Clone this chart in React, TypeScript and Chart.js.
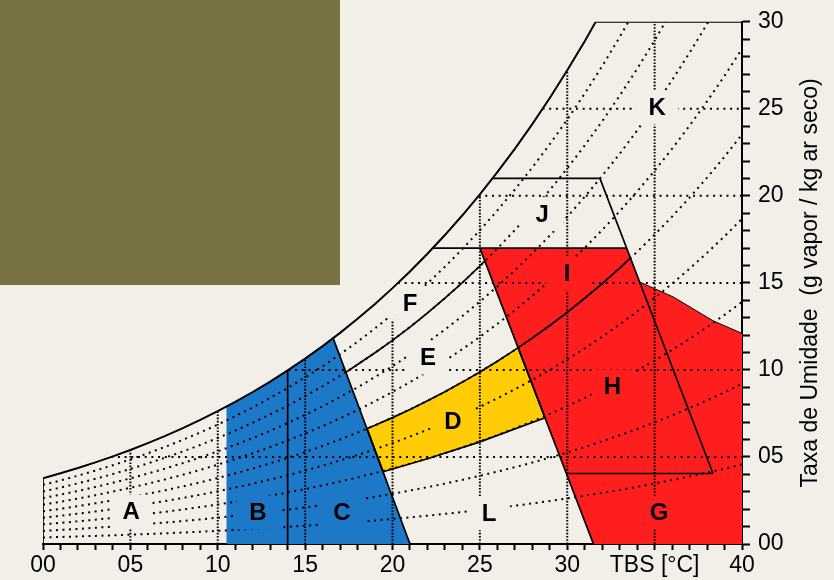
import React, { useEffect, useRef } from 'react';
import { Chart, registerables } from 'chart.js';

Chart.register(...registerables);

type Pt = [number, number];

// ---------- data ----------
const P_ATM = 101.325;
const SAT_T = [0, 1, 2, 3, 4, 5, 6, 7, 8, 9, 10, 11, 12, 13, 14, 15, 16, 17, 18, 19, 20, 21, 22, 23, 24, 25, 26, 27, 28, 29, 30, 31, 32, 33, 34, 35, 36, 37, 38, 39, 40];
const SAT_W = [3.775, 4.06, 4.364, 4.689, 5.034, 5.403, 5.796, 6.213, 6.657, 7.129, 7.632, 8.166, 8.732, 9.334, 9.973, 10.651, 11.369, 12.131, 12.938, 13.794, 14.7, 15.659, 16.674, 17.749, 18.885, 20.087, 21.359, 22.703, 24.124, 25.625, 27.212, 28.887, 30.658, 32.527, 34.502, 36.587, 38.789, 41.114, 43.569, 46.161, 48.898];
const RH_LEVELS = [0.1, 0.2, 0.3, 0.4, 0.5, 0.6, 0.7, 0.8, 0.9];
const GRID_T = [5, 10, 15, 20, 25, 30, 35];
const GRID_W = [5, 10, 15, 20, 25];

const X_TICK_LABELS: Record<number, string> = { 0: '00', 5: '05', 10: '10', 15: '15', 20: '20', 25: '25', 30: '30', 35: 'TBS [°C]', 40: '40' };
const Y_TICK_LABELS: Record<number, string> = { 0: '00', 5: '05', 10: '10', 15: '15', 20: '20', 25: '25', 30: '30' };
const Y_TITLE = 'Taxa de Umidade  (g vapor / kg ar seco)';

const BLUE_ZONE: Pt[] = [[10.5, 0], [10.5, 7.9], [11, 8.166], [12, 8.732], [13, 9.334], [14, 9.973], [15, 10.651], [16, 11.369], [16.6, 11.83], [21, 0]];
const YELLOW_ZONE: Pt[] = [[18.54, 6.63], [19, 6.82], [20, 7.26], [21, 7.73], [22, 8.23], [23, 8.75], [24, 9.3], [25, 9.88], [26, 10.5], [27, 11.15], [27.19, 11.28], [28.73, 7.25], [25, 5.87], [22, 4.9], [19.46, 4.15]];
const RED_ZONE: Pt[] = [[25, 17], [33.4, 17], [34.14, 15.05], [36.07, 14.19], [38.35, 12.82], [40, 12.1], [40, 0], [31.5, 0]];

const LEFT_EDGE: Pt[] = [[0, 0], [0, 3.775]];
const BC_LINE: Pt[] = [[14, 0], [14, 9.973]];
const C_SLANT: Pt[] = [[16.6, 11.83], [21, 0]];
const EF_LINE: Pt[] = [[17.33, 9.86], [18, 10.31], [19, 10.99], [20, 11.7], [21, 12.46], [22, 13.27], [23, 14.12], [24, 15.02], [25, 15.97], [25.28, 16.26]];
const FJ_LINE: Pt[] = [[22.3, 17], [33.4, 17]];
const J_LINE: Pt[] = [[25.72, 21], [31.87, 21], [38.34, 4.05]];
const RED_SLANT: Pt[] = [[25, 17], [31.5, 0]];
const IH_LINE: Pt[] = [[27.19, 11.28], [28, 11.83], [29, 12.55], [30, 13.31], [31, 14.12], [32, 14.96], [33, 15.85], [33.61, 16.43]];
const HG_LINE: Pt[] = [[29.95, 4.05], [38.34, 4.05]];
const RED_EDGE: Pt[] = [[34.14, 15.05], [36.07, 14.19], [38.35, 12.82], [40, 12.1]];

const ZONE_LABELS = ['A', 'B', 'C', 'D', 'E', 'F', 'G', 'H', 'I', 'J', 'K', 'L'];
const LABEL_T = [5.04, 12.3, 17.11, 23.46, 22.03, 21.0, 35.25, 32.59, 29.99, 28.56, 35.14, 25.52];
const LABEL_W = [1.86, 1.8, 1.83, 7.07, 10.71, 13.85, 1.8, 9.05, 15.52, 18.95, 25.08, 1.77];

// ---------- styles ----------
const BG = '#f2efe8';
const OLIVE = '#767340';
const BLUE = '#1e78c8';
const YELLOW = '#ffcc05';
const RED = '#ff1e1e';
const LABEL_BOX: Record<string, string> = { A: BG, B: BLUE, C: BLUE, D: YELLOW, E: BG, F: BG, G: RED, H: RED, I: RED, J: BG, K: BG, L: BG };
const FONT = "'Liberation Sans', Arial, sans-serif";

// ---------- helpers (grid construction) ----------
const satAt = (t: number) => {
  for (let i = 0; i < SAT_T.length - 1; i++) {
    if (t >= SAT_T[i] && t <= SAT_T[i + 1]) {
      const f = (t - SAT_T[i]) / (SAT_T[i + 1] - SAT_T[i]);
      return SAT_W[i] + f * (SAT_W[i + 1] - SAT_W[i]);
    }
  }
  return SAT_W[SAT_W.length - 1];
};
const tAtSat = (w: number) => {
  for (let i = 0; i < SAT_W.length - 1; i++) {
    if (w >= SAT_W[i] && w <= SAT_W[i + 1]) {
      const f = (w - SAT_W[i]) / (SAT_W[i + 1] - SAT_W[i]);
      return SAT_T[i] + f * (SAT_T[i + 1] - SAT_T[i]);
    }
  }
  return 40;
};
const rhCurve = (phi: number): Pt[] =>
  SAT_T.map((t, i) => {
    const ws = SAT_W[i];
    const ps = (ws * P_ATM) / (622 + ws);
    return [t, (622 * phi * ps) / (P_ATM - phi * ps)] as Pt;
  });

const satLine: Pt[] = [];
SAT_T.forEach((t, i) => { if (SAT_W[i] <= 30) satLine.push([t, SAT_W[i]]); });
satLine.push([tAtSat(30), 30], [40, 30]);

const toXY = (pts: Pt[]) => pts.map(([x, y]) => ({ x, y }));

const dotted = (pts: Pt[], dash: number[], width: number) => ({
  data: toXY(pts), showLine: true, pointRadius: 0, borderColor: '#000', borderWidth: width,
  borderDash: dash, fill: false, order: 2, kind: 'dot', tension: 0,
});
const solid = (pts: Pt[], width = 1.7) => ({
  data: toXY(pts), showLine: true, pointRadius: 0, borderColor: '#000', borderWidth: width,
  fill: false, order: 1, kind: 'solid', tension: 0,
});

const zonesPlugin = {
  id: 'zones',
  beforeDatasetsDraw(chart: any) {
    chart.$boxesDone = false;
    const { ctx, chartArea: a, scales: { x, y } } = chart;
    ctx.save();
    ctx.beginPath();
    ctx.rect(a.left, a.top, a.right - a.left, a.bottom - a.top);
    ctx.clip();
    const poly = (pts: Pt[], color: string) => {
      ctx.beginPath();
      pts.forEach(([t, w], i) => {
        const px = x.getPixelForValue(t);
        const py = y.getPixelForValue(w);
        if (i === 0) ctx.moveTo(px, py); else ctx.lineTo(px, py);
      });
      ctx.closePath();
      ctx.fillStyle = color;
      ctx.fill();
    };
    poly(BLUE_ZONE, BLUE);
    poly(YELLOW_ZONE, YELLOW);
    poly(RED_ZONE, RED);
    ctx.restore();
  },
  beforeDatasetDraw(chart: any, args: any) {
    const ds = chart.data.datasets[args.index];
    if (ds.kind !== 'solid' || chart.$boxesDone) return;
    chart.$boxesDone = true;
    const { ctx, scales: { x, y } } = chart;
    ctx.save();
    ZONE_LABELS.forEach((lab, i) => {
      const px = x.getPixelForValue(LABEL_T[i]);
      const py = y.getPixelForValue(LABEL_W[i]);
      ctx.fillStyle = LABEL_BOX[lab];
      ctx.fillRect(px - 21, py - 17, 42, 34);
    });
    ctx.restore();
  },
  afterDatasetsDraw(chart: any) {
    const { ctx, scales: { x, y } } = chart;
    ctx.save();
    ctx.fillStyle = '#000';
    ctx.font = `bold 24px ${FONT}`;
    ctx.textAlign = 'center';
    ctx.textBaseline = 'middle';
    ZONE_LABELS.forEach((lab, i) => {
      ctx.fillText(lab, x.getPixelForValue(LABEL_T[i]), y.getPixelForValue(LABEL_W[i]) + 1);
    });
    ctx.restore();
  },
  afterDraw(chart: any) {
    const { ctx, chartArea: a, scales: { y } } = chart;
    ctx.save();
    ctx.translate(y.right - 17, (a.top + a.bottom) / 2);
    ctx.rotate(-Math.PI / 2);
    ctx.fillStyle = '#000';
    ctx.font = `23px ${FONT}`;
    ctx.textAlign = 'center';
    ctx.textBaseline = 'alphabetic';
    ctx.fillText(Y_TITLE, 0, 0);
    ctx.restore();
  },
};

export default function App() {
  const ref = useRef<HTMLCanvasElement | null>(null);

  useEffect(() => {
    if (!ref.current) return;
    const datasets: any[] = [];
    RH_LEVELS.forEach((phi) => datasets.push(dotted(rhCurve(phi), [2, 4.5], 2)));
    GRID_T.forEach((t) => datasets.push(dotted([[t, 0], [t, Math.min(satAt(t), 30)]], [1.6, 1.6], 2)));
    GRID_W.forEach((w) => datasets.push(dotted([[tAtSat(w), w], [40, w]], [2, 4.7], 2)));
    datasets.push(solid(satLine, 2));
    datasets.push(solid(LEFT_EDGE));
    datasets.push(solid(BC_LINE));
    datasets.push(solid(C_SLANT));
    datasets.push(solid([...YELLOW_ZONE, YELLOW_ZONE[0]]));
    datasets.push(solid(EF_LINE));
    datasets.push(solid(FJ_LINE));
    datasets.push(solid(J_LINE));
    datasets.push(solid(RED_SLANT));
    datasets.push(solid(IH_LINE));
    datasets.push(solid(HG_LINE));
    datasets.push(solid(RED_EDGE, 1));

    const chart = new Chart(ref.current, {
      type: 'scatter',
      data: { datasets },
      options: {
        responsive: false,
        animation: false,
        events: [],
        layout: { padding: { left: 43, top: 20, right: 0, bottom: 0 } },
        plugins: { legend: { display: false }, tooltip: { enabled: false }, title: { display: false } },
        scales: {
          x: {
            type: 'linear', position: 'bottom', min: 0, max: 40, z: 1,
            afterFit: (s: any) => { s.height = 36; },
            ticks: {
              stepSize: 1, autoSkip: false, maxRotation: 0, minRotation: 0, padding: 2,
              color: '#000', font: { family: FONT, size: 23 },
              callback: (v: any) => X_TICK_LABELS[Number(v)] ?? '',
            },
            grid: { drawOnChartArea: false, drawTicks: true, tickLength: 6, tickWidth: 2, tickColor: '#000' },
            border: { display: true, color: '#000', width: 2 },
          },
          y: {
            type: 'linear', position: 'right', min: 0, max: 30, z: 1,
            afterFit: (s: any) => { s.width = 92; },
            ticks: {
              stepSize: 1, autoSkip: false, padding: 8,
              color: '#000', font: { family: FONT, size: 23 },
              callback: (v: any) => Y_TICK_LABELS[Number(v)] ?? '',
            },
            grid: { drawOnChartArea: false, drawTicks: true, tickLength: 8, tickWidth: 2, tickColor: '#000' },
            border: { display: true, color: '#000', width: 2 },
          },
        },
      } as any,
      plugins: [zonesPlugin],
    });
    return () => chart.destroy();
  }, []);

  return (
    <div style={{ position: 'fixed', left: 0, top: 0, width: 834, height: 580, background: BG, overflow: 'hidden' }}>
      <canvas ref={ref} width={834} height={580} style={{ position: 'absolute', left: 0, top: 0, width: 834, height: 580 }} />
      <div style={{ position: 'absolute', left: 0, top: 0, width: 340, height: 285, background: OLIVE }} />
    </div>
  );
}
